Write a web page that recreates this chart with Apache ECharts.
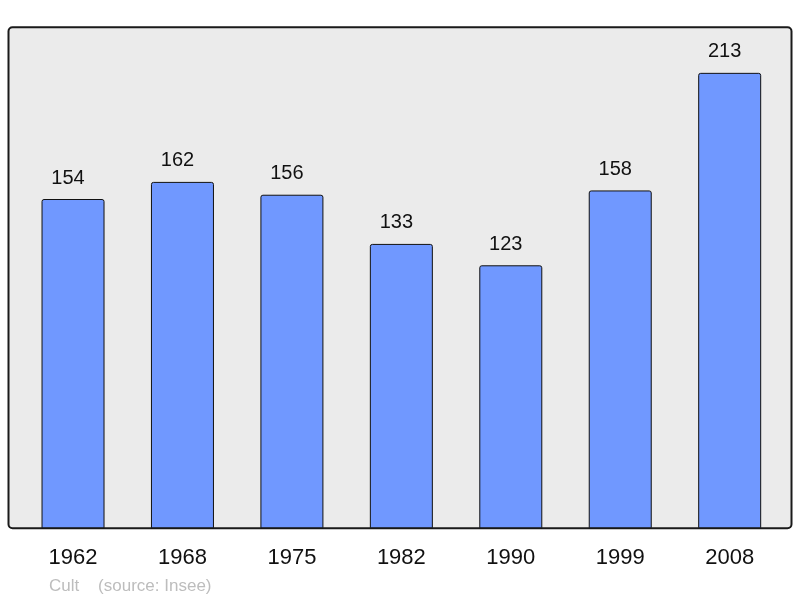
<!DOCTYPE html>
<html><head><meta charset="utf-8">
<script src="https://cdn.jsdelivr.net/npm/echarts@6/dist/echarts.min.js"></script>
<style>html,body{margin:0;padding:0;background:#fff}#c{width:800px;height:598px}</style>
</head><body><div id="c"></div>
<script>
var categories = ['1962','1968','1975','1982','1990','1999','2008'];
var population = [154,162,156,133,123,158,213];
var sourceText = 'Cult    (source: Insee)';

var chart = echarts.init(document.getElementById('c'), null, {renderer:'canvas'});
chart.setOption({
  animation:false,
  graphic:[
    {type:'rect', z:-10, shape:{x:8.5,y:27.3,width:783,height:501,r:4},
     style:{fill:'#ebebeb',stroke:'#1a1a1a',lineWidth:2}},
    {type:'text', left:49, top:577.5, style:{text:sourceText, fill:'#bdbdbd', font:'17px "Liberation Sans", Arial, sans-serif'}}
  ],
  grid:{left:18.3, right:15.6, top:27.3, bottom:69.7, containLabel:false},
  xAxis:{type:'category', data:categories,
    axisLine:{show:false}, axisTick:{show:false},
    axisLabel:{margin:19, color:'#111', fontSize:22, fontFamily:'"Liberation Sans", Arial, sans-serif'}},
  yAxis:{type:'value', min:0, max:234.3, show:false, splitLine:{show:false}},
  series:[{type:'bar', data:population, barWidth:63,
    itemStyle:{color:'#7098ff', borderColor:'#111', borderWidth:1, borderRadius:[2,2,0,0]},
    label:{show:true, position:'top', distance:11, offset:[-5,0], color:'#111', fontSize:20,
      fontFamily:'"Liberation Sans", Arial, sans-serif'}}]
});
</script></body></html>
